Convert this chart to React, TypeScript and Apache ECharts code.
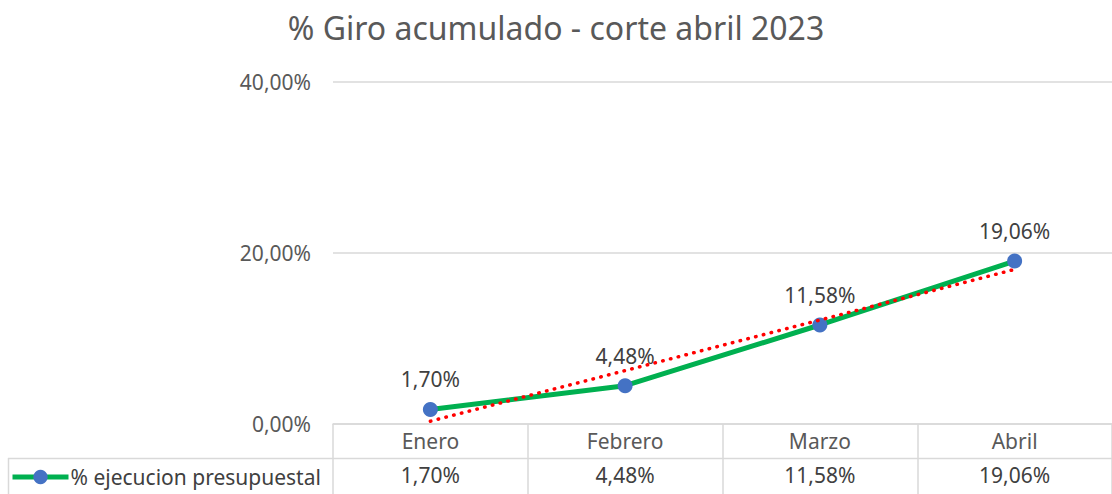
import React, { useEffect, useRef } from "react";
import * as echarts from "echarts";

const TITLE = "% Giro acumulado - corte abril 2023";
const SERIES_NAME = "% ejecucion presupuestal";
const categories = ["Enero", "Febrero", "Marzo", "Abril"];
const values = [1.7, 4.48, 11.58, 19.06];
const yTicks = [0, 20, 40];

const fmt = (v: number) => v.toFixed(2).replace(".", ",") + "%";

// linear trendline (least squares, like Excel's trendline)
function trend(vals: number[]) {
  const n = vals.length;
  const xs = vals.map((_, i) => i + 1);
  const mx = xs.reduce((a, b) => a + b, 0) / n;
  const my = vals.reduce((a, b) => a + b, 0) / n;
  let sxy = 0, sxx = 0;
  xs.forEach((x, i) => { sxy += (x - mx) * (vals[i] - my); sxx += (x - mx) * (x - mx); });
  const b = sxy / sxx;
  const a = my - b * mx;
  return xs.map((x) => a + b * x);
}

const FONT = "Noto Sans";
const FS = 21;

export default function App() {
  const ref = useRef<HTMLDivElement>(null);
  useEffect(() => {
    const chart = echarts.init(ref.current!, null, { renderer: "svg" });
    const gridLeft = 333, gridTop = 82, gridW = 784, gridH = 342;
    chart.setOption({
      animation: false,
      textStyle: { fontFamily: FONT },
      title: {
        text: TITLE,
        left: "center",
        top: 6,
        textStyle: { fontFamily: FONT, fontSize: 32, fontWeight: "normal", color: "#595959" },
      },
      legend: {
        data: [SERIES_NAME],
        left: 8,
        top: 464,
        padding: [2, 2, 2, 2],
        itemWidth: 56,
        itemHeight: 18,
        itemGap: 0,
        lineStyle: { width: 5 },
        textStyle: { fontFamily: FONT, fontSize: 21, lineHeight: 22, color: "#404040", padding: [0, 0, 0, -3] },
      },
      grid: { left: gridLeft, top: gridTop, width: gridW, height: gridH, containLabel: false },
      xAxis: [
        {
          type: "category",
          data: categories,
          position: "bottom",
          axisLine: { show: true, lineStyle: { color: "#d9d9d9", width: 1.5 } },
          axisTick: { show: true, length: 70, lineStyle: { color: "#d9d9d9", width: 1.5 } },
          axisLabel: { fontFamily: FONT, fontSize: FS, color: "#595959", margin: 6 },
          splitLine: { show: false },
        },
        {
          type: "category",
          data: categories,
          position: "bottom",
          offset: 34,
          axisLine: { show: false },
          axisTick: { show: false },
          axisLabel: {
            fontFamily: FONT, fontSize: FS, color: "#404040", margin: 6,
            formatter: (_: string, i: number) => fmt(values[i]),
          },
        },
      ],
      yAxis: {
        type: "value",
        min: yTicks[0],
        max: yTicks[yTicks.length - 1],
        interval: 20,
        axisLine: { show: false },
        axisTick: { show: false },
        axisLabel: { fontFamily: FONT, fontSize: FS, color: "#595959", margin: 22, formatter: (v: number) => fmt(v) },
        splitLine: { show: true, lineStyle: { color: "#d9d9d9", width: 1.5 } },
      },
      graphic: [
        { type: "line", shape: { x1: 8, y1: 458.5, x2: 1112, y2: 458.5 }, style: { stroke: "#d9d9d9", lineWidth: 1.5 } },
        { type: "line", shape: { x1: 8.5, y1: 458, x2: 8.5, y2: 494 }, style: { stroke: "#d9d9d9", lineWidth: 1.5 } },
      ],
      series: [
        {
          name: SERIES_NAME,
          type: "line",
          data: values,
          symbol: "circle",
          symbolSize: 15,
          z: 3,
          lineStyle: { color: "#00b050", width: 5 },
          itemStyle: { color: "#4472c4" },
          label: {
            show: true,
            position: "top",
            distance: 12,
            fontFamily: FONT,
            fontSize: FS,
            color: "#404040",
            formatter: (p: any) => fmt(p.value),
          },
        },
        {
          name: "trend",
          type: "line",
          data: trend(values),
          symbol: "none",
          z: 4,
          lineStyle: { color: "#ff0000", width: 3.5, type: [0.5, 7.5], cap: "round" },
          silent: true,
        },
      ],
    });
    return () => chart.dispose();
  }, []);
  return <div ref={ref} style={{ position: "absolute", left: 0, top: 0, width: 1112, height: 494 }} />;
}
